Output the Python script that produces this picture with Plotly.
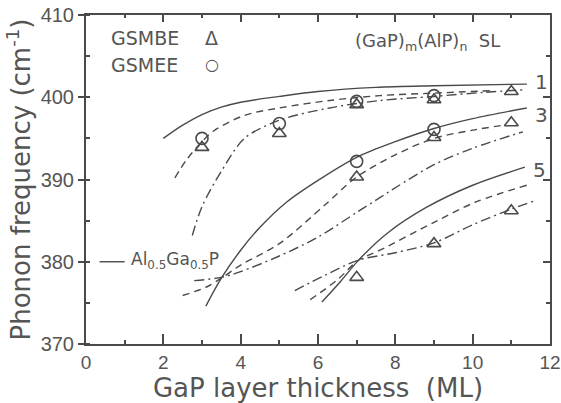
import plotly.graph_objects as go

INK = "#4a4a4a"
TXT = "#555555"
TICKFONT = "Liberation Sans, Arial, sans-serif"
TITLEFONT = "DejaVu Sans, sans-serif"

# ---- axis ticks ----
x_ticks = [0, 2, 4, 6, 8, 10, 12]
y_ticks = [370, 380, 390, 400, 410]

# ---- measured points ----
gsmbe_x = [3, 5, 7, 9, 11, 7, 9, 11, 7, 9, 11]
gsmbe_y = [393.9, 395.6, 399.1, 399.7, 400.7, 390.3, 395.1, 396.9, 378.1, 382.2, 386.2]
gsmee_x = [3, 5, 7, 9, 7, 9]
gsmee_y = [395.0, 396.8, 399.5, 400.2, 392.2, 396.1]

# ---- calculated curves, n = 1 ----
n1_solid_x = [2.0, 2.5, 3.0, 3.5, 4.0, 5.0, 6.0, 7.5, 9.0, 11.4]
n1_solid_y = [395.0, 396.6, 397.9, 398.8, 399.4, 400.1, 400.7, 401.2, 401.4, 401.6]
n1_dash_x = [2.3, 2.6, 3.0, 3.3, 4.1, 5.0, 6.3, 7.6, 9.0, 10.5]
n1_dash_y = [390.2, 392.4, 394.6, 395.9, 397.8, 398.7, 399.6, 400.2, 400.5, 400.8]
n1_dashdot_x = [2.75, 3.0, 3.5, 4.1, 5.0, 6.3, 7.6, 9.0, 10.3, 11.3]
n1_dashdot_y = [383.2, 386.7, 391.0, 395.0, 397.2, 398.7, 399.6, 400.1, 400.6, 400.9]

# ---- n = 3 ----
n3_solid_x = [3.1, 3.5, 4.0, 4.5, 5.2, 6.0, 7.0, 8.0, 9.0, 10.0, 11.4]
n3_solid_y = [374.6, 378.0, 381.4, 384.2, 387.3, 389.9, 392.7, 394.6, 396.2, 397.4, 398.7]
n3_dash_x = [2.5, 3.1, 3.5, 4.0, 5.0, 6.2, 7.0, 8.0, 9.0, 10.0, 10.8]
n3_dash_y = [375.9, 376.9, 378.0, 379.6, 382.2, 387.0, 390.3, 393.0, 395.0, 396.0, 396.6]
n3_dashdot_x = [2.8, 3.5, 4.0, 5.0, 6.0, 7.0, 7.6, 8.0, 9.0, 10.0, 11.3]
n3_dashdot_y = [377.7, 378.1, 378.8, 380.7, 383.0, 386.0, 387.8, 389.0, 391.8, 393.8, 395.8]

# ---- n = 5 ----
n5_solid_x = [6.1, 6.6, 7.05, 7.8, 8.8, 10.0, 11.35]
n5_solid_y = [375.1, 377.7, 380.2, 383.5, 386.6, 389.3, 391.5]
n5_dash_x = [5.8, 6.5, 7.05, 7.6, 9.0, 10.1, 11.4]
n5_dash_y = [375.4, 377.8, 380.2, 381.4, 384.8, 387.3, 389.3]
n5_dashdot_x = [5.4, 6.2, 7.05, 8.0, 9.0, 10.0, 11.0, 11.6]
n5_dashdot_y = [376.5, 378.4, 380.2, 381.1, 382.3, 384.5, 386.4, 387.4]

# ---- Al0.5Ga0.5P alloy reference ----
alloy_x = [0.35, 1.0]
alloy_y = [380.0, 380.0]

DASH = "7px,5px"
DASHDOT = "10px,4px,2px,4px"

fig = go.Figure()


def curve(x, y, dash):
    fig.add_trace(go.Scatter(
        x=x, y=y, mode="lines",
        line=dict(color=INK, width=1.4, dash=dash, shape="spline", smoothing=0.9),
        showlegend=False, hoverinfo="skip"))


for cx, cy, d in [
    (n1_solid_x, n1_solid_y, "solid"), (n1_dash_x, n1_dash_y, DASH), (n1_dashdot_x, n1_dashdot_y, DASHDOT),
    (n3_solid_x, n3_solid_y, "solid"), (n3_dash_x, n3_dash_y, DASH), (n3_dashdot_x, n3_dashdot_y, DASHDOT),
    (n5_solid_x, n5_solid_y, "solid"), (n5_dash_x, n5_dash_y, DASH), (n5_dashdot_x, n5_dashdot_y, DASHDOT),
]:
    curve(cx, cy, d)

fig.add_trace(go.Scatter(x=alloy_x, y=alloy_y, mode="lines",
                         line=dict(color=INK, width=1.4), showlegend=False, hoverinfo="skip"))

fig.add_trace(go.Scatter(x=gsmbe_x, y=gsmbe_y, mode="markers", name="GSMBE",
                         marker=dict(symbol="triangle-up-open", size=12, color=INK,
                                     line=dict(color=INK, width=1.6)),
                         showlegend=False))
fig.add_trace(go.Scatter(x=gsmee_x, y=gsmee_y, mode="markers", name="GSMEE",
                         marker=dict(symbol="circle-open", size=12, color=INK,
                                     line=dict(color=INK, width=1.6)),
                         showlegend=False))

# same points again on the mirror axes so the top/right frame axes are drawn
fig.add_trace(go.Scatter(x=gsmee_x, y=gsmee_y, xaxis="x2", yaxis="y2", mode="markers",
                         marker=dict(opacity=0), showlegend=False, hoverinfo="skip"))

ann = []


def text(x, y, t, size, xanchor="left", font=TITLEFONT):
    ann.append(dict(x=x, y=y, xref="x", yref="y", text=t, showarrow=False,
                    xanchor=xanchor, yanchor="middle",
                    font=dict(family=font, size=size, color=TXT)))


text(0.6, 407.2, "GSMBE", 19)
text(3.25, 407.2, "Δ", 19, xanchor="center")
text(0.6, 403.9, "GSMEE", 19)
text(3.25, 404.0, "○", 16, xanchor="center")
text(6.9, 406.7, "(GaP)<sub>m</sub>(AlP)<sub>n</sub>\u00a0\u00a0SL", 18)
text(11.55, 401.9, "1", 20)
text(11.55, 397.8, "3", 20)
text(11.5, 391.2, "5", 20)
text(1.1, 380.1, "Al<sub>0.5</sub>Ga<sub>0.5</sub>P", 17)

fig.update_layout(
    width=561, height=403,
    margin=dict(l=86, r=11, t=15, b=59, autoexpand=False),
    paper_bgcolor="white", plot_bgcolor="white",
    showlegend=False,
    annotations=ann,
    xaxis=dict(range=[0, 12], tickvals=x_ticks, ticks="inside", ticklen=10, tickwidth=2,
               tickcolor=INK, showline=True, linecolor=INK, linewidth=2, automargin=False,
               showgrid=False, zeroline=False,
               minor=dict(dtick=1, ticks="inside", ticklen=4, tickwidth=1.5, tickcolor=INK, showgrid=False),
               tickfont=dict(family=TICKFONT, size=19, color=TXT),
               title=dict(text="GaP layer thickness\u00a0\u00a0(ML)",
                          font=dict(family=TITLEFONT, size=26, color=TXT), standoff=14)),
    yaxis=dict(range=[370, 410], tickvals=y_ticks, ticks="outside", ticklen=6, tickwidth=2,
               tickcolor=INK, showline=True, linecolor=INK, linewidth=2, automargin=False,
               showgrid=False, zeroline=False,
               minor=dict(dtick=5, ticks="inside", ticklen=4, tickwidth=1.5, tickcolor=INK, showgrid=False),
               tickfont=dict(family=TICKFONT, size=20, color=TXT),
               title=dict(text="Phonon frequency (cm<sup>-1</sup>)",
                          font=dict(family=TITLEFONT, size=26, color=TXT), standoff=3)),
    xaxis2=dict(overlaying="x", side="top", anchor="y", range=[0, 12], tickvals=x_ticks,
                ticks="inside", ticklen=7, tickwidth=2, tickcolor=INK, showticklabels=False,
                showline=True, linecolor=INK, linewidth=2, showgrid=False, zeroline=False, automargin=False,
                minor=dict(dtick=1, ticks="inside", ticklen=3, tickwidth=1.5, tickcolor=INK, showgrid=False)),
    yaxis2=dict(overlaying="y", side="right", anchor="x", range=[370, 410], tickvals=y_ticks,
                ticks="inside", ticklen=7, tickwidth=2, tickcolor=INK, showticklabels=False,
                showline=True, linecolor=INK, linewidth=2, showgrid=False, zeroline=False, automargin=False,
                minor=dict(dtick=5, ticks="inside", ticklen=4, tickwidth=1.5, tickcolor=INK, showgrid=False)),
)

fig.write_html("out.html")
